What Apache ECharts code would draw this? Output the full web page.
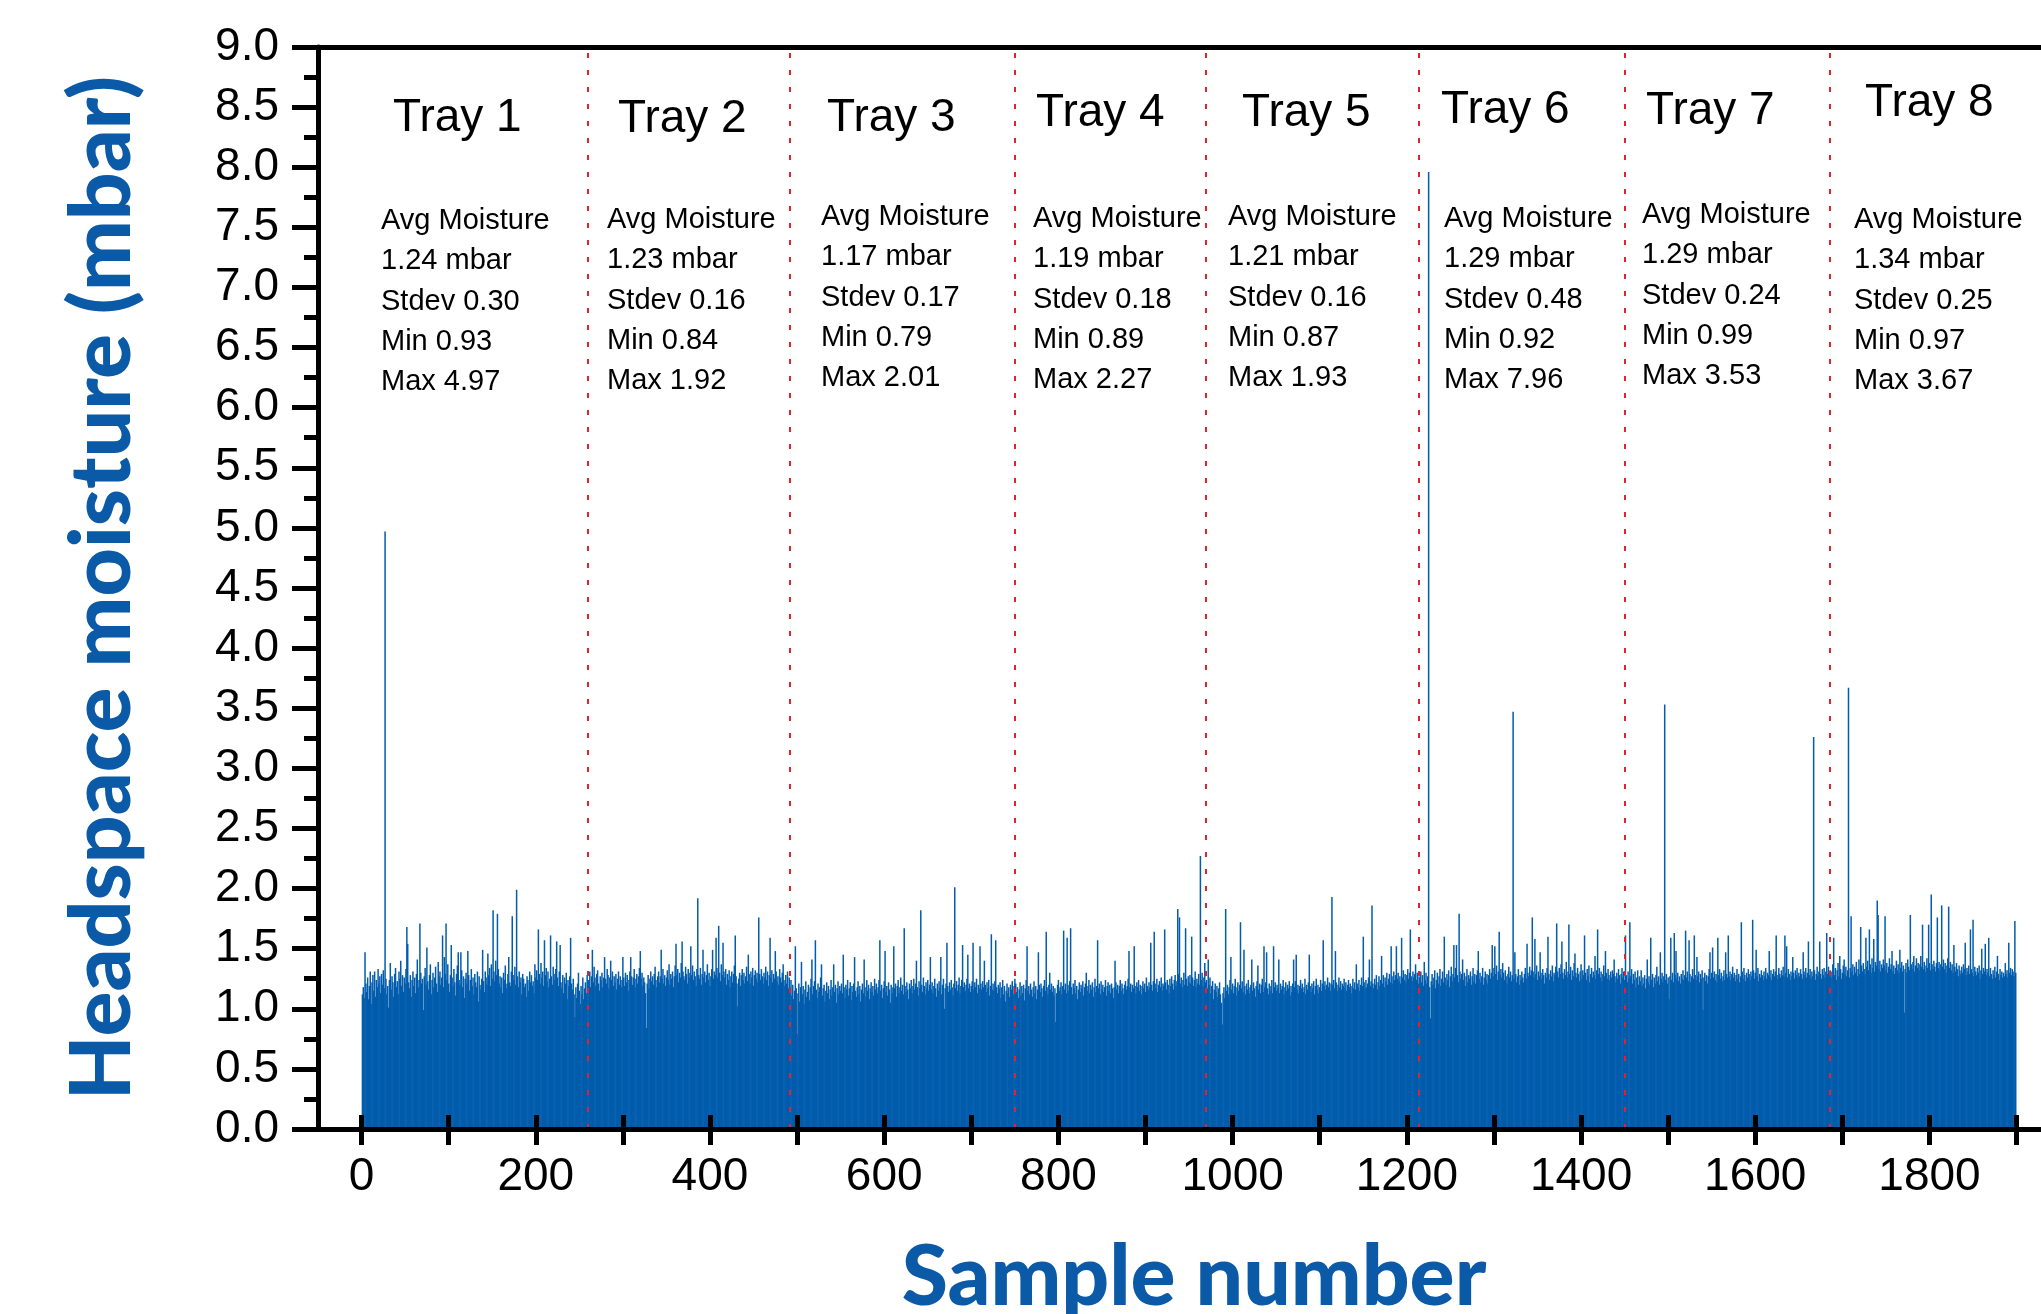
<!DOCTYPE html>
<html lang="en">
<head>
<meta charset="UTF-8">
<title>Headspace moisture per sample, trays 1-8</title>
<script src="https://cdn.jsdelivr.net/npm/echarts@6/dist/echarts.min.js"></script>
<style>
    html, body { margin: 0; padding: 0; background: #ffffff; }
    #main { width: 2041px; height: 1314px; }
</style>
</head>
<body>
<div id="main"></div>
<script type="text/javascript">
    // headspace moisture of each sample, in 0.01 mbar, one array per tray
    var tray1 = [
        112,118,109,147,121,114,126,108,119,131,104,122,128,115,131,110,124,118,133,121,
        127,113,129,120,132,117,497,125,112,119,101,124,138,116,127,122,110,129,134,118,
        123,112,131,125,140,119,128,114,126,121,133,168,154,122,117,128,110,124,131,119,
        126,113,129,141,118,124,171,130,121,125,99,127,134,120,151,123,116,128,137,112,
        124,130,118,126,135,121,114,139,127,131,120,126,161,118,143,129,171,124,137,121,
        114,128,153,126,119,133,122,111,129,136,147,124,120,147,132,118,127,109,125,130,
        121,148,128,115,124,133,119,126,112,129,122,118,131,106,127,120,116,125,149,123,
        114,131,126,120,146,128,134,119,137,125,182,131,123,140,128,179,133,121,127,118,
        126,113,130,124,136,117,121,129,143,122,119,131,177,128,124,135,120,199,127,118,
        131,122,126,112,129,125,118,121,110,127,124,115,131,122,128,119,123,113,137,126,
        132,124,166,129,121,138,126,131,119,157,128,134,123,131,118,125,161,127,120,135,
        129,124,133,156,126,119,131,153,122,117,128,113,126,121,130,108,124,119,127,159,
        121,116,125,112,93,118,109,121,130,115,104,119,112,126,108,117,122,113,128,124
    ];
    var tray2 = [
        124,131,118,127,149,122,135,126,119,129,132,121,115,127,124,130,118,126,143,125,
        121,133,128,117,126,140,124,131,119,127,122,129,116,125,131,120,127,118,124,143,
        126,119,130,122,128,115,124,131,143,127,120,126,133,118,125,129,121,127,134,148,
        125,130,119,126,122,113,84,121,128,117,125,131,123,127,120,129,135,124,118,127,
        131,122,127,149,125,133,121,128,119,126,132,124,137,120,129,125,131,118,127,136,
        154,128,133,122,130,126,138,156,131,127,124,135,129,121,133,126,130,152,128,136,
        124,131,127,119,133,192,128,125,134,120,129,149,126,131,122,128,137,124,130,119,
        127,133,149,125,131,128,159,134,126,169,130,123,137,128,155,131,126,133,120,129,
        124,132,118,127,131,122,129,136,161,127,121,102,125,130,119,128,133,124,130,121,
        127,135,123,145,129,121,131,126,134,119,128,132,125,130,122,176,129,124,133,127,
        121,130,126,135,124,131,119,128,159,126,132,122,129,125,148,131,123,127,120,133,
        126,122,130,137,124,119,128,121,131,117,126
    ];
    var tray3 = [
        118,124,111,120,108,115,152,117,79,113,121,106,118,139,112,119,104,116,123,110,
        114,120,107,118,125,141,112,119,123,157,116,109,121,114,118,126,137,111,117,120,
        106,115,122,113,119,108,116,124,111,118,137,114,120,105,117,123,112,119,115,121,
        113,145,118,109,120,116,124,111,117,122,107,119,114,121,143,115,110,118,123,112,
        119,106,116,121,113,141,118,110,124,115,120,108,117,122,114,119,111,125,116,121,
        113,118,124,157,115,120,109,117,123,148,114,119,111,122,116,105,120,113,118,152,
        117,121,110,119,124,113,118,126,115,120,112,167,119,114,122,116,108,121,117,124,
        113,119,125,116,121,140,118,111,123,117,182,120,114,126,119,112,122,117,124,115,
        120,143,116,122,113,119,125,117,110,121,115,123,118,143,112,120,125,100,117,121,
        155,119,114,122,116,124,118,111,121,201,117,123,115,120,126,113,119,124,153,118,
        122,115,120,125,145,117,121,114,119,123,155,116,122,118,125,113,120,117,152,121,
        116,123,118,140,120,114,122,117,124,111,119,162,116,121,115,123,157,118,113,120,
        117,122,109,118,124,112,119,106,115,121,113,118,110,120,116,123,112,119,125
    ];
    var tray4 = [
        121,114,118,109,116,122,111,119,113,120,107,117,124,152,115,119,112,121,116,110,
        118,123,113,119,108,116,147,120,114,121,117,110,119,124,115,164,118,112,120,130,
        116,121,114,119,111,117,89,113,120,124,115,118,122,112,119,165,116,121,113,159,
        120,115,123,167,118,112,121,117,124,113,119,108,116,122,114,120,117,123,111,118,
        121,130,115,119,124,113,120,116,122,110,118,125,114,119,157,117,121,112,123,116,
        120,114,118,124,111,119,122,115,120,113,121,117,109,118,140,122,116,120,113,119,
        124,115,121,117,112,120,123,116,119,125,148,118,121,114,120,117,152,119,113,122,
        118,124,115,120,112,119,123,117,121,114,126,119,116,122,118,155,120,115,123,164,
        121,117,125,114,120,123,118,126,115,121,119,166,122,116,124,120,113,125,119,127,
        121,116,124,128,119,123,183,129,176,121,126,118,124,130,120,167,125,119,127,122,
        128,121,160,126,119,124,131,118,125,121,129,120,227,124,130,119,126,138,122
    ];
    var tray5 = [
        124,117,141,120,126,113,119,123,108,116,121,114,119,110,117,122,112,105,87,113,
        118,109,183,115,120,112,118,124,143,116,121,113,119,125,111,118,122,115,120,172,
        117,123,114,149,119,112,121,116,124,113,118,120,141,115,122,117,110,119,123,136,
        116,121,113,120,125,114,152,118,122,147,117,112,121,115,119,124,113,152,118,122,
        115,120,117,141,113,121,116,119,124,112,118,122,115,120,117,123,111,119,114,121,
        141,118,123,145,116,120,113,119,124,117,121,114,118,125,112,120,116,122,145,119,
        114,121,117,123,112,119,125,116,120,113,118,124,115,121,157,119,123,116,120,126,
        118,122,115,121,193,120,124,117,148,122,115,120,126,118,123,116,121,119,125,117,
        122,115,120,124,118,121,113,119,125,117,122,116,137,121,118,124,115,120,126,119,
        160,122,117,124,118,121,126,141,119,123,186,121,117,125,120,128,116,122,127,119,
        124,144,121,128,118,126,123,130,120,125,129,122,152,127,121,131,124,128,152,125,
        130,123,127,121,159,126,132,124,129,122,128,133,125,130,166,127,123,131,126,129,
        137,124,130,121,127
    ];
    var tray6 = [
        126,131,122,128,119,139,124,130,121,127,796,118,92,123,129,120,126,132,117,124,
        130,121,127,133,119,125,131,122,160,126,120,129,124,132,118,127,135,123,129,153,
        126,134,153,128,122,179,131,125,129,141,124,130,119,127,133,122,128,125,131,120,
        127,134,123,129,121,128,132,148,125,130,122,127,134,120,126,131,124,129,121,128,
        133,125,130,153,127,134,152,129,136,124,131,164,128,133,126,138,130,124,132,127,
        121,129,135,126,131,123,128,347,125,147,129,122,127,133,120,128,124,131,126,122,
        129,134,125,154,130,127,135,128,132,176,131,126,158,129,136,124,131,127,147,130,
        125,133,128,121,130,126,134,160,129,124,132,127,136,123,130,128,135,171,131,126,
        134,129,137,156,130,125,133,128,139,126,131,170,129,135,124,132,127,138,146,130,
        126,134,129,123,131,137,125,132,128,161,130,124,133,127,136,122,129,134,126,131,
        128,144,125,132,166,129,134,126,131,123,129,136,127,148,130,125,133,128,124,131,
        126,132,129,141,127,122,130,125,133,128,121,129,134,126,131,124
    ];
    var tray7 = [
        161,128,122,131,125,172,127,133,121,129,124,131,118,126,132,120,127,123,132,119,
        126,121,128,117,125,141,122,127,120,159,124,129,118,126,121,128,135,123,127,120,
        147,125,130,122,127,353,124,129,121,126,108,127,159,124,130,122,163,128,148,125,
        130,123,127,121,129,125,132,124,128,165,126,131,123,157,129,122,127,133,125,161,
        128,124,143,127,131,122,129,125,132,99,126,130,123,128,121,127,133,147,125,130,
        151,126,131,124,129,122,159,128,133,125,130,123,127,132,124,147,129,126,161,127,
        131,124,129,135,126,130,123,128,133,125,129,122,127,172,131,125,134,128,123,130,
        126,133,129,124,131,127,174,132,125,130,149,127,134,123,129,126,132,128,124,131,
        127,134,125,130,128,148,126,132,124,129,133,127,131,161,128,125,134,129,126,132,
        128,135,127,161,130,152,126,133,129,124,131,127,143,130,125,132,128,134,126,130,
        127,133,129,125,147,131,128,134,126,130,156,128,133,125,131,127,326,132,124,129,
        135,127,131,156,129,125,133,128,134,126,131,163,129,135,127,132
    ];
    var tray8 = [
        131,126,137,159,128,134,124,132,138,127,144,133,125,130,136,141,129,135,127,132,
        367,126,134,177,131,137,128,135,130,139,127,133,141,129,168,136,131,138,133,129,
        159,135,140,132,166,137,130,142,134,158,131,139,136,190,178,133,140,131,137,134,
        141,136,177,132,138,130,135,142,133,137,148,131,136,129,134,140,132,137,130,149,
        134,139,131,136,97,133,138,130,141,135,132,178,137,133,139,144,131,136,142,134,
        138,132,137,144,135,170,133,139,131,136,142,134,170,138,132,195,137,133,140,135,
        131,138,176,134,139,132,137,186,135,141,133,138,130,136,142,185,134,139,132,137,
        130,153,135,131,138,133,127,136,132,129,135,130,137,133,155,128,134,131,136,129,
        166,133,130,174,127,135,131,128,134,130,136,125,132,150,129,134,131,154,128,133,
        130,159,127,134,129,125,132,128,135,126,131,144,129,124,133,128,131,126,130,127,
        138,129,132,126,155,130,134,128,133,131,127,173,130
    ];

    // first sample number of each tray and the tray boundaries (dashed lines)
    var trayStart = [1, 261, 492, 751, 970, 1215, 1451, 1687];
    var trayBounds = [260, 491, 750, 969, 1214, 1450, 1686];
    var trayNames = ['Tray 1', 'Tray 2', 'Tray 3', 'Tray 4', 'Tray 5', 'Tray 6', 'Tray 7', 'Tray 8'];

    // per tray statistics printed on the chart (mbar)
    var avgMoisture = [1.24, 1.23, 1.17, 1.19, 1.21, 1.29, 1.29, 1.34];
    var stdevMoisture = [0.30, 0.16, 0.17, 0.18, 0.16, 0.48, 0.24, 0.25];
    var minMoisture = [0.93, 0.84, 0.79, 0.89, 0.87, 0.92, 0.99, 0.97];
    var maxMoisture = [4.97, 1.92, 2.01, 2.27, 1.93, 7.96, 3.53, 3.67];

    // x axis ticks and labels
    var xTicks = [0, 100, 200, 300, 400, 500, 600, 700, 800, 900, 1000,
                  1100, 1200, 1300, 1400, 1500, 1600, 1700, 1800, 1900];
    var xLabels = [0, 200, 400, 600, 800, 1000, 1200, 1400, 1600, 1800];

    // text block placement (pixels)
    var titleLeft = [393, 618, 827, 1036, 1242, 1441, 1646, 1865];
    var titleMidY = [118, 119, 118, 113, 113, 110, 111, 103];
    var statsLeft = [381, 607, 821, 1033, 1228, 1444, 1642, 1854];
    var statsTop = [201, 200, 197, 199, 197, 199, 195, 200];

    var BLUE = '#0a5aa8';
    var BAR_BLUE = '#025cac';
    var TICK_FONT = '"Liberation Sans", Arial, Helvetica, sans-serif';
    var TITLE_FONT = 'Lato, "Open Sans", "Liberation Sans", sans-serif';

    var trays = [tray1, tray2, tray3, tray4, tray5, tray6, tray7, tray8];
    var barData = [];
    trays.forEach(function (vals, t) {
        vals.forEach(function (v, i) {
            barData.push([trayStart[t] + i, v / 100]);
        });
    });

    var graphics = [];
    trayNames.forEach(function (name, t) {
        graphics.push({
            type: 'text', silent: true, x: titleLeft[t], y: titleMidY[t],
            style: {
                text: name, fill: '#000',
                font: '46px ' + TICK_FONT,
                align: 'left', verticalAlign: 'middle'
            }
        });
        graphics.push({
            type: 'text', silent: true, x: statsLeft[t], y: statsTop[t],
            style: {
                text: [
                    'Avg Moisture',
                    avgMoisture[t].toFixed(2) + ' mbar',
                    'Stdev ' + stdevMoisture[t].toFixed(2),
                    'Min ' + minMoisture[t].toFixed(2),
                    'Max ' + maxMoisture[t].toFixed(2)
                ].join('\n'),
                fill: '#000',
                font: '29px ' + TICK_FONT,
                lineHeight: 40.3,
                align: 'left', verticalAlign: 'top'
            }
        });
    });

    var axisBlack = { color: '#000', width: 5 };
    var X_MIN = -50, X_MAX = 1928;

    var option = {
        animation: false,
        backgroundColor: '#ffffff',
        grid: { left: 318, right: 0, top: 47, bottom: 185, containLabel: false, outerBoundsMode: 'none' },
        xAxis: [
            {
                type: 'value', position: 'bottom', min: X_MIN, max: X_MAX, z: 5,
                axisLine: { show: true, onZero: false, lineStyle: axisBlack },
                axisTick: { show: true, length: 16, customValues: xTicks, lineStyle: axisBlack },
                axisLabel: {
                    customValues: xLabels, margin: 25, fontSize: 46,
                    color: '#000', fontFamily: TICK_FONT,
                    formatter: function (v) { return String(v); }
                },
                splitLine: { show: false },
                name: 'Sample number', nameLocation: 'middle', nameGap: 107,
                nameTextStyle: {
                    fontFamily: TITLE_FONT, fontWeight: 900, fontSize: 84,
                    color: BLUE, padding: [0, 0, 0, 29]
                }
            },
            {
                // inner half of the crossing x ticks, drawn over the bars
                type: 'value', position: 'bottom', min: X_MIN, max: X_MAX, z: 5,
                axisLine: { show: false, onZero: false },
                axisTick: { show: true, inside: true, length: 14, customValues: xTicks, lineStyle: axisBlack },
                axisLabel: { show: false },
                splitLine: { show: false }
            },
            {
                // top frame line
                type: 'value', position: 'top', min: X_MIN, max: X_MAX, z: 5,
                axisLine: { show: true, onZero: false, lineStyle: axisBlack },
                axisTick: { show: false },
                axisLabel: { show: false },
                splitLine: { show: false }
            }
        ],
        yAxis: {
            type: 'value', min: 0, max: 9, interval: 0.5, z: 5,
            axisLine: { show: true, onZero: false, lineStyle: axisBlack },
            axisTick: { show: true, length: 26, lineStyle: axisBlack },
            minorTick: { show: true, splitNumber: 2, length: 14, lineStyle: axisBlack },
            axisLabel: {
                margin: 39, fontSize: 46, color: '#000', fontFamily: TICK_FONT,
                formatter: function (v) { return v.toFixed(1); }
            },
            splitLine: { show: false },
            minorSplitLine: { show: false },
            name: 'Headspace moisture (mbar)', nameLocation: 'middle', nameGap: 173,
            nameTextStyle: {
                fontFamily: TITLE_FONT, fontWeight: 900, fontSize: 84, color: BLUE
            }
        },
        graphic: graphics,
        series: [
            {
                name: 'Headspace moisture',
                type: 'bar',
                xAxisIndex: 0,
                yAxisIndex: 0,
                barWidth: 1.5,
                itemStyle: { color: BAR_BLUE },
                data: barData,
                markLine: {
                    silent: true,
                    symbol: ['none', 'none'],
                    label: { show: false },
                    lineStyle: { color: '#e3232c', type: [5, 12], width: 2 },
                    data: trayBounds.map(function (b) { return { xAxis: b }; })
                }
            }
        ]
    };

    var chart = echarts.init(document.getElementById('main'));
    chart.setOption(option);
</script>
</body>
</html>
